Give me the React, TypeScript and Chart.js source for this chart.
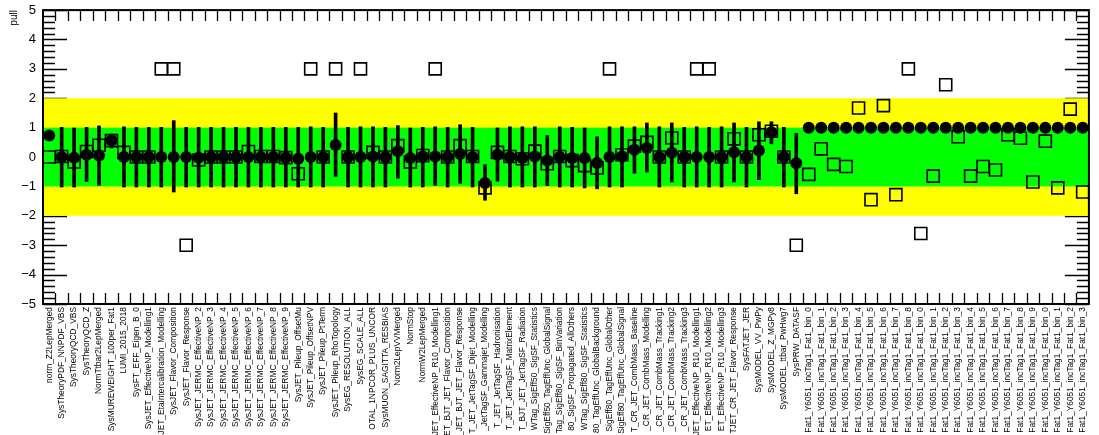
import React, { useEffect, useRef } from "react";
import { Chart, registerables } from "chart.js";

Chart.register(...registerables);

const FONT = "'Liberation Sans', Arial, Helvetica, sans-serif";

const labels: string[] = [
  "norm_Z2LepMerged",
  "SysTheoryPDF_NNPDF_VBS",
  "SysTheoryQCD_VBS",
  "SysTheoryQCD_Z",
  "NormTtbar2LepMerged",
  "SysMUREWEIGHT_100per_Fat1",
  "LUMI_2015_2018",
  "SysFT_EFF_Eigen_B_0",
  "SysJET_EffectiveNP_Modelling1",
  "SysJET_EtaIntercalibration_Modelling",
  "SysJET_Flavor_Composition",
  "SysJET_Flavor_Response",
  "SysJET_JERMC_EffectiveNP_2",
  "SysJET_JERMC_EffectiveNP_3",
  "SysJET_JERMC_EffectiveNP_4",
  "SysJET_JERMC_EffectiveNP_5",
  "SysJET_JERMC_EffectiveNP_6",
  "SysJET_JERMC_EffectiveNP_7",
  "SysJET_JERMC_EffectiveNP_8",
  "SysJET_JERMC_EffectiveNP_9",
  "SysJET_Pileup_OffsetMu",
  "SysJET_Pileup_OffsetNPV",
  "SysJET_Pileup_PtTerm",
  "SysJET_Pileup_RhoTopology",
  "SysEG_RESOLUTION_ALL",
  "SysEG_SCALE_ALL",
  "OTAL_1NPCOR_PLUS_UNCOR",
  "SysMUON_SAGITTA_RESBIAS",
  "Norm2LepVVMerged",
  "NormStop",
  "NormW2LepMerged",
  "JET_EffectiveNP_R10_Modelling1",
  "ET_BJT_JET_Flavor_Composition",
  "_JET_BJT_JET_Flavor_Response",
  "T_JET_JetTagSF_Dijet_Modelling",
  "_JetTagSF_Gammajet_Modelling",
  "T_JET_JetTagSF_Hadronisation",
  "T_JET_JetTagSF_MatrixElement",
  "T_BJT_JET_JetTagSF_Radiation",
  "WTag_SigEff50_SigSF_Statistics",
  "SigEff50_TagEffUnc_GlobalSignal",
  "Tag_SigEff80_SigSF_BinVariation",
  "80_SigSF_Propagated_AllOthers",
  "WTag_SigEff80_SigSF_Statistics",
  "80_TagEffUnc_GlobalBackground",
  "SigEff80_TagEffUnc_GlobalOther",
  "SigEff80_TagEffUnc_GlobalSignal",
  "T_CR_JET_CombMass_Baseline",
  "_CR_JET_CombMass_Modelling",
  "_CR_JET_CombMass_Tracking1",
  "_CR_JET_CombMass_Tracking2",
  "_CR_JET_CombMass_Tracking3",
  "JET_EffectiveNP_R10_Modelling1",
  "ET_EffectiveNP_R10_Modelling2",
  "ET_EffectiveNP_R10_Modelling3",
  "TJET_CR_JET_Flavor_Response",
  "SysFATJET_JER",
  "SysMODEL_VV_PwPy",
  "SysMODEL_Z_MGPy8",
  "SysMODEL_ttbar_PwHwg7",
  "SysPRW_DATASF",
  "Fat1_Y6051_incTag1_Fat1_bin_0",
  "Fat1_Y6051_incTag1_Fat1_bin_1",
  "Fat1_Y6051_incTag1_Fat1_bin_2",
  "Fat1_Y6051_incTag1_Fat1_bin_3",
  "Fat1_Y6051_incTag1_Fat1_bin_4",
  "Fat1_Y6051_incTag1_Fat1_bin_5",
  "Fat1_Y6051_incTag1_Fat1_bin_6",
  "Fat1_Y6051_incTag1_Fat1_bin_7",
  "Fat1_Y6051_incTag1_Fat1_bin_8",
  "Fat1_Y6051_incTag1_Fat1_bin_0",
  "Fat1_Y6051_incTag1_Fat1_bin_1",
  "Fat1_Y6051_incTag1_Fat1_bin_2",
  "Fat1_Y6051_incTag1_Fat1_bin_3",
  "Fat1_Y6051_incTag1_Fat1_bin_4",
  "Fat1_Y6051_incTag1_Fat1_bin_5",
  "Fat1_Y6051_incTag1_Fat1_bin_6",
  "Fat1_Y6051_incTag1_Fat1_bin_7",
  "Fat1_Y6051_incTag1_Fat1_bin_8",
  "Fat1_Y6051_incTag1_Fat1_bin_9",
  "Fat1_Y6051_incTag1_Fat1_bin_0",
  "Fat1_Y6051_incTag1_Fat1_bin_1",
  "Fat1_Y6051_incTag1_Fat1_bin_2",
  "Fat1_Y6051_incTag1_Fat1_bin_3",
];

// fitted pulls (filled circles)
const pulls: number[] = [
  0.73, 0.0, -0.02, 0.08, 0.05, 0.56, 0.0, 0.0, 0.0, 0.0,
  0.0, 0.0, -0.02, 0.0, 0.0, 0.0, 0.0, 0.0, 0.0, -0.02,
  -0.06, 0.0, 0.0, 0.41, 0.0, 0.0, 0.02, 0.0, 0.2, -0.03,
  0.02, 0.02, 0.0, 0.1, 0.0, -0.88, 0.08, 0.0, -0.03, 0.02,
  -0.12, 0.0, -0.03, -0.03, -0.2, 0.0, 0.02, 0.25, 0.31, 0.0,
  0.15, 0.0, 0.0, 0.0, 0.0, 0.16, 0.0, 0.22, 0.84, 0.0,
  -0.21,
  1, 1, 1, 1, 1, 1, 1, 1, 1,
  1, 1, 1, 1, 1, 1, 1, 1, 1, 1,
  1, 1, 1, 1,
];

// lower / upper ends of the pull error bars
const errLow: (number | null)[] = [
  null, -1.02, -1.02, -0.83, -0.96, 0.31, -1.02, -1.02, -1.02, -1.02,
  -1.19, -1.02, -1.02, -1.02, -1.02, -1.02, -1.02, -1.02, -1.02, -1.02,
  -1.02, -1.02, -1.02, -0.66, -1.02, -1.02, -1.02, -1.02, -0.72, -1.02,
  -1.02, -0.96, -1.02, -0.89, -1.02, -1.47, -0.82, -1.02, -1.02, -1.02,
  -0.97, -1.02, -1.02, -1.05, -1.08, -1.02, -1.02, -0.55, -0.51, -1.02,
  -0.85, -1.02, -1.02, -1.02, -1.02, -0.85, -1.02, -0.77, 0.45, -1.02,
  -1.25,
];
const errHigh: (number | null)[] = [
  null, 1.01, 0.99, 1.01, 1.06, 0.78, 1.03, 1.01, 1.01, 1.01,
  1.24, 1.01, 1.01, 1.01, 1.01, 1.01, 1.01, 1.01, 1.01, 1.01,
  1.01, 1.03, 1.01, 1.5, 1.01, 1.03, 1.03, 1.01, 1.07, 0.99,
  1.01, 1.03, 1.01, 1.1, 1.01, -0.26, 0.99, 1.03, 1.03, 1.03,
  0.73, 1.03, 1.01, 0.99, 0.69, 1.03, 1.03, 1.03, 1.16, 1.03,
  1.16, 1.01, 1.03, 1.01, 1.03, 1.16, 1.01, 1.2, 1.2, 1.01,
  0.81,
];

// comparison values (open squares)
const squares: number[] = [
  0.0, 0.02, -0.17, 0.19, 0.4, 0.56, 0.16, 0.0, 0.0, 3,
  3, -3, -0.1, 0.0, 0.0, 0.0, 0.19, 0.02, 0.02, -0.02,
  -0.57, 3, 0.0, 3, 0.0, 3, 0.16, 0.0, 0.39, -0.17,
  0.05, 3, 0.0, 0.39, 0.02, -1.05, 0.16, 0.02, -0.06, 0.2,
  -0.23, 0.02, -0.12, -0.29, -0.37, 3, 0.08, 0.37, 0.5, 0.0,
  0.65, 0.0, 3, 3, 0.0, 0.62, 0.0, 0.76, 0.88, 0.0,
  -3,
  -0.59, 0.28, -0.25, -0.32, 1.67, -1.45, 1.75, -1.28, 3,
  -2.6, -0.65, 2.46, 0.69, -0.65, -0.32, -0.44, 0.76, 0.64, -0.85,
  0.54, -1.05, 1.63, -1.19,
];

const yMin = -5;
const yMax = 5;
const yMajorStep = 1;
const yMinorStep = 0.2;
const band1 = 1;
const band2 = 2;

const rootPlugin = {
  id: "rootFrame",
  beforeDatasetsDraw(chart: any) {
    const { ctx, chartArea: a } = chart;
    const x = chart.scales.x;
    const y = chart.scales.y;
    ctx.save();
    ctx.strokeStyle = "#000";
    ctx.lineWidth = 1.3;
    ctx.beginPath();
    const nMinor = Math.round((yMax - yMin) / yMinorStep);
    for (let k = 0; k <= nMinor; k++) {
      const v = yMin + k * yMinorStep;
      const major = Math.abs(v / yMajorStep - Math.round(v / yMajorStep)) < 1e-6;
      const len = major ? 24 : 12;
      const py = Math.round(y.getPixelForValue(v)) + 0.5;
      ctx.moveTo(a.left, py);
      ctx.lineTo(a.left + len, py);
      ctx.moveTo(a.right, py);
      ctx.lineTo(a.right - len, py);
    }
    const n = chart.data.labels.length;
    for (let i = 1; i < n; i++) {
      const px = Math.round((x.getPixelForValue(i - 1) + x.getPixelForValue(i)) / 2) + 0.5;
      ctx.moveTo(px, a.bottom);
      ctx.lineTo(px, a.bottom - 11);
      ctx.moveTo(px, a.top);
      ctx.lineTo(px, a.top + 11);
    }
    ctx.stroke();
    // bands
    const y2t = y.getPixelForValue(band2);
    const y2b = y.getPixelForValue(-band2);
    ctx.fillStyle = "#ffff00";
    ctx.fillRect(a.left, y2t, a.right - a.left, y2b - y2t);
    const y1t = y.getPixelForValue(band1);
    const y1b = y.getPixelForValue(-band1);
    ctx.fillStyle = "#00ff00";
    ctx.fillRect(a.left, y1t, a.right - a.left, y1b - y1t);
    ctx.restore();
  },
  afterDatasetsDraw(chart: any) {
    const { ctx, chartArea: a } = chart;
    ctx.save();
    ctx.strokeStyle = "#000";
    ctx.lineWidth = 2;
    ctx.strokeRect(a.left, a.top, a.right - a.left, a.bottom - a.top);
    ctx.restore();
  },
};

export default function App() {
  const ref = useRef<HTMLCanvasElement | null>(null);

  useEffect(() => {
    if (!ref.current) return;
    const errData = labels.map((_, i) =>
      errLow[i] == null || errHigh[i] == null ? null : [errLow[i], errHigh[i]]
    );
    const chart = new Chart(ref.current, {
      type: "bar",
      data: {
        labels,
        datasets: [
          {
            type: "line",
            label: "pull",
            data: pulls,
            showLine: false,
            pointStyle: "circle",
            pointRadius: 6,
            pointHoverRadius: 6,
            pointBackgroundColor: "#000",
            pointBorderColor: "#000",
            pointBorderWidth: 0,
            order: 0,
          } as any,
          {
            type: "bar",
            label: "error",
            data: errData as any,
            backgroundColor: "#000",
            borderWidth: 0,
            barThickness: 3,
            grouped: false,
            order: 1,
          } as any,
          {
            type: "line",
            label: "comparison",
            data: squares,
            showLine: false,
            pointStyle: "rect",
            pointRadius: 8.5,
            pointHoverRadius: 8.5,
            pointBackgroundColor: "rgba(0,0,0,0)",
            pointBorderColor: "#000",
            pointBorderWidth: 1.6,
            order: 2,
          } as any,
        ],
      },
      options: {
        animation: false,
        responsive: false,
        devicePixelRatio: 1,
        layout: { padding: { top: 9, right: 2, left: 0, bottom: 0 } },
        plugins: {
          legend: { display: false },
          tooltip: { enabled: false },
        },
        scales: {
          x: {
            type: "category",
            offset: true,
            grid: { display: false, drawTicks: false },
            border: { display: false },
            ticks: {
              autoSkip: false,
              minRotation: 90,
              maxRotation: 90,
              padding: 3,
              color: "#000",
              font: { family: FONT, size: 8.4 },
            },
            afterFit: (s: any) => {
              s.height = 131;
              s.paddingLeft = 0;
              s.paddingRight = 0;
            },
          },
          y: {
            type: "linear",
            min: yMin,
            max: yMax,
            grid: { display: false, drawTicks: false },
            border: { display: false },
            ticks: {
              stepSize: yMajorStep,
              padding: 7,
              color: "#000",
              font: { family: FONT, size: 13 },
              callback: (v: any) => (Number(v) < 0 ? "\u2212" + Math.abs(Number(v)) : String(v)),
            },
            title: {
              display: true,
              text: "pull",
              align: "end",
              color: "#000",
              font: { family: FONT, size: 10 },
              padding: { top: 8, bottom: 0 },
            },
            afterFit: (s: any) => {
              s.width = 43;
              s.paddingTop = 0;
              s.paddingBottom = 0;
            },
          },
        },
      } as any,
      plugins: [rootPlugin],
    });
    return () => chart.destroy();
  }, []);

  return (
    <div style={{ position: "fixed", left: 0, top: 0, width: 1099, height: 435, background: "#fff" }}>
      <canvas ref={ref} width={1099} height={435} style={{ display: "block" }} />
    </div>
  );
}
